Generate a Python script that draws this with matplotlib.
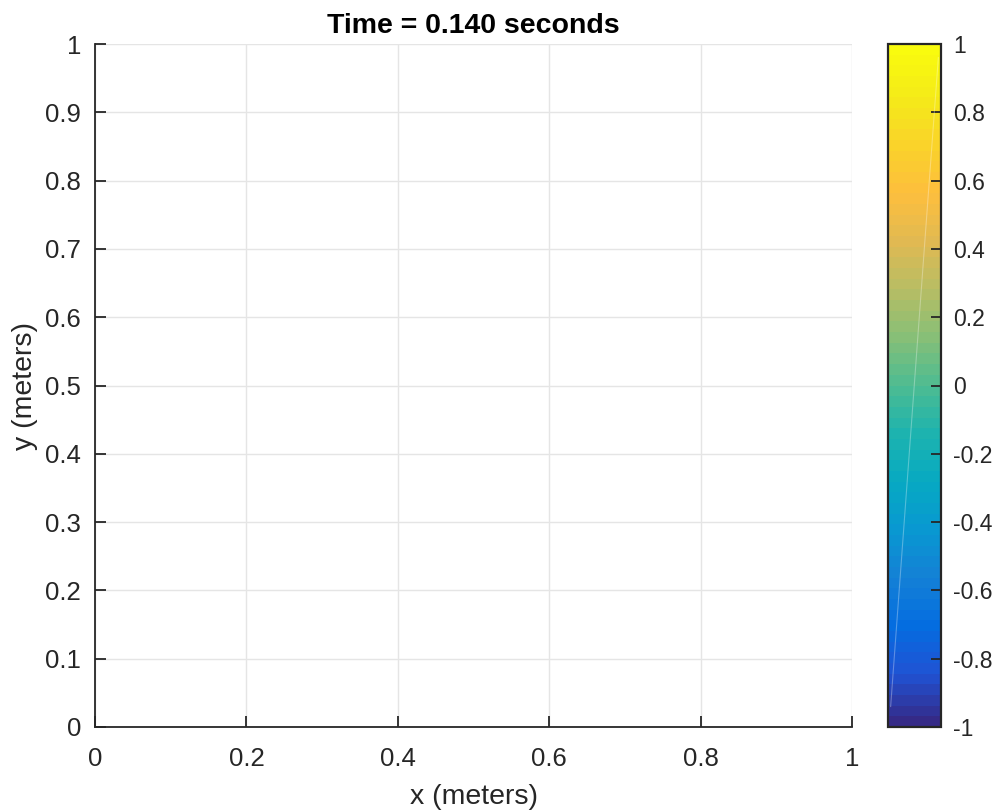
import numpy as np
import matplotlib
matplotlib.use("Agg")
import matplotlib.pyplot as plt
from matplotlib.colors import LinearSegmentedColormap, Normalize
from matplotlib.cm import ScalarMappable

plt.rcParams['font.family'] = ['Liberation Sans', 'DejaVu Sans']
plt.rcParams['axes.unicode_minus'] = False

# ---- data ----
title_text = "Time = 0.140 seconds"
x_label = "x (meters)"
y_label = "y (meters)"
x_ticks = [0, 0.2, 0.4, 0.6, 0.8, 1]
x_tick_labels = ["0", "0.2", "0.4", "0.6", "0.8", "1"]
y_ticks = [0, 0.1, 0.2, 0.3, 0.4, 0.5, 0.6, 0.7, 0.8, 0.9, 1]
y_tick_labels = ["0", "0.1", "0.2", "0.3", "0.4", "0.5", "0.6", "0.7", "0.8", "0.9", "1"]
cbar_limits = [-1, 1]
cbar_ticks = [-1, -0.8, -0.6, -0.4, -0.2, 0, 0.2, 0.4, 0.6, 0.8, 1]
cbar_tick_labels = ["-1", "-0.8", "-0.6", "-0.4", "-0.2", "0", "0.2", "0.4", "0.6", "0.8", "1"]

# parula-like colormap anchors
parula_anchors = [
    (0.2081, 0.1663, 0.5292),
    (0.1253, 0.3242, 0.8303),
    (0.0165, 0.4266, 0.8786),
    (0.0779, 0.5040, 0.8384),
    (0.0343, 0.5966, 0.8199),
    (0.0267, 0.6642, 0.7607),
    (0.1133, 0.7015, 0.6859),
    (0.3022, 0.7376, 0.5712),
    (0.5300, 0.7491, 0.4661),
    (0.7184, 0.7411, 0.3905),
    (0.8824, 0.7274, 0.3217),
    (0.9938, 0.7455, 0.2403),
    (0.9789, 0.8271, 0.1633),
    (0.9599, 0.9218, 0.0948),
    (0.9763, 0.9831, 0.0538),
]
parula = LinearSegmentedColormap.from_list("parula", parula_anchors, N=64)

dark = "#262626"
grid_c = "#e5e5e5"

fig = plt.figure(figsize=(9.93, 8.10), dpi=100)
ax = fig.add_axes([95/993, 83/810, (852-95)/993, (727-44)/810])
ax.set_xlim(0, 1)
ax.set_ylim(0, 1)
ax.set_xticks(x_ticks)
ax.set_xticklabels(x_tick_labels)
ax.set_yticks(y_ticks)
ax.set_yticklabels(y_tick_labels)
ax.grid(True, color=grid_c, linewidth=1.0)
ax.set_axisbelow(True)
for s in ['top', 'right']:
    ax.spines[s].set_visible(False)
for s in ['left', 'bottom']:
    ax.spines[s].set_color(dark)
    ax.spines[s].set_linewidth(1.3)
ax.tick_params(axis='both', direction='in', length=8, width=1.3, color=dark,
               labelcolor=dark, labelsize=18.5)
ax.tick_params(axis='x', pad=14.5)
ax.tick_params(axis='y', pad=10)
ax.set_xlabel(x_label, fontsize=20.5, color=dark, labelpad=9)
ax.set_ylabel(y_label, fontsize=20.5, color=dark, labelpad=5)
ax.set_title(title_text, fontsize=20.5, fontweight='bold', color='black', pad=8)

cax = fig.add_axes([888/993, 83/810, (941-888)/993, (727-44)/810])
sm = ScalarMappable(norm=Normalize(*cbar_limits), cmap=parula)
cb = fig.colorbar(sm, cax=cax, ticks=cbar_ticks)
cb.ax.set_yticklabels(cbar_tick_labels)
cb.outline.set_edgecolor(dark)
cb.outline.set_linewidth(1.6)
cb.ax.tick_params(direction='in', length=7, width=1.3, color=dark,
                  labelcolor=dark, labelsize=16.5, pad=9)
cb.ax.plot([0.05, 0.95], [0.03, 0.98], transform=cb.ax.transAxes,
           color='white', alpha=0.3, linewidth=0.8)

fig.savefig("out.png", dpi=100)
